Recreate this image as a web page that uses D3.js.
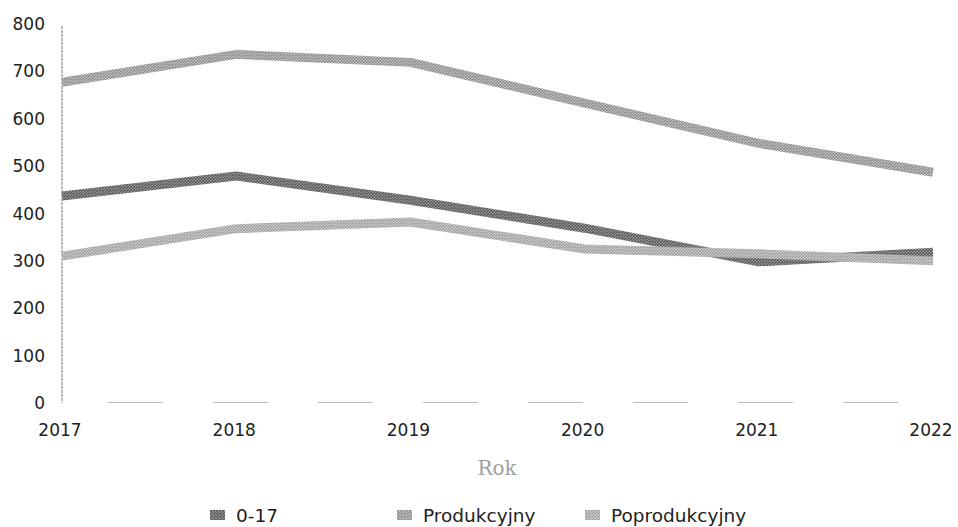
<!DOCTYPE html>
<html>
<head>
<meta charset="utf-8">
<script src="https://cdn.jsdelivr.net/npm/d3@7"></script>
<style>
  body { margin: 0; background: #fff; }
  text { font-family: "DejaVu Sans", sans-serif; }
</style>
</head>
<body>
<svg id="chart" width="958" height="527"></svg>
<script>
const years = [2017, 2018, 2019, 2020, 2021, 2022];
const age0to17 = [437, 479, 428, 369, 298, 318];
const produkcyjny = [677, 736, 719, 633, 548, 487];
const poprodukcyjny = [310, 368, 382, 325, 315, 300];
const yTicks = [0, 100, 200, 300, 400, 500, 600, 700, 800];

const seriesNames = ["0-17", "Produkcyjny", "Poprodukcyjny"];
const seriesValues = [age0to17, produkcyjny, poprodukcyjny];
// dark / light pixel pairs used for the dithered look
const shades = [["#555", "#9a9a9a"], ["#8a8a8a", "#c4c4c4"], ["#9c9c9c", "#d0d0d0"]];

const svg = d3.select("#chart");

const x = d3.scalePoint().domain(years).range([62, 933]);
const y = d3.scaleLinear().domain([0, 800]).range([403, 24]);

// patterns for the textured strokes
const defs = svg.append("defs");
shades.forEach((s, i) => {
    const p = defs.append("pattern")
        .attr("id", "pat" + i)
        .attr("patternUnits", "userSpaceOnUse")
        .attr("width", 3).attr("height", 3);
    p.append("rect").attr("width", 3).attr("height", 3).attr("fill", s[1]);
    p.append("path").attr("d", "M0,3 L3,0").attr("stroke", s[0]).attr("stroke-width", 1.3);
});

// y axis: thin dotted vertical line
svg.append("line")
    .attr("x1", 62).attr("x2", 62)
    .attr("y1", y(800) + 2).attr("y2", y(0))
    .attr("stroke", "#777").attr("stroke-width", 1)
    .attr("stroke-dasharray", "3,1");

// faint broken baseline
svg.append("line")
    .attr("x1", 108).attr("x2", 935)
    .attr("y1", y(0) - 0.5).attr("y2", y(0) - 0.5)
    .attr("stroke", "#bbb").attr("stroke-width", 1)
    .attr("stroke-dasharray", "55,50");

svg.append("g").selectAll("text")
    .data(yTicks)
    .join("text")
    .attr("x", 45)
    .attr("y", d => y(d))
    .attr("dy", "0.36em")
    .attr("text-anchor", "end")
    .attr("font-size", 17)
    .attr("fill", "#222")
    .text(d => d);

svg.append("g").selectAll("text")
    .data(years)
    .join("text")
    .attr("x", d => x(d) - 2)
    .attr("y", 430)
    .attr("dy", "0.36em")
    .attr("text-anchor", "middle")
    .attr("font-size", 17)
    .attr("fill", "#222")
    .text(d => d);

svg.append("text")
    .attr("x", 497).attr("y", 468)
    .attr("dy", "0.35em")
    .attr("text-anchor", "middle")
    .attr("font-size", 20)
    .attr("fill", "#a0a0a0")
    .style("font-family", "'DejaVu Serif', serif")
    .text("Rok");

const line = d3.line()
    .x((d, i) => x(years[i]))
    .y(d => y(d));

// draw in order so dark line sits under the light one near 2021
const drawOrder = [1, 0, 2];
svg.append("g").selectAll("path")
    .data(drawOrder)
    .join("path")
    .attr("d", i => line(seriesValues[i]))
    .attr("fill", "none")
    .attr("stroke", i => `url(#pat${i})`)
    .attr("stroke-width", 9)
    .attr("stroke-linejoin", "round");

// legend
const legendX = [210, 397, 585];
const legend = svg.append("g").selectAll("g")
    .data(seriesNames)
    .join("g")
    .attr("transform", (d, i) => `translate(${legendX[i]},515)`);
legend.append("rect")
    .attr("x", 0).attr("y", -5)
    .attr("width", 15).attr("height", 10)
    .attr("fill", (d, i) => `url(#pat${i})`);
legend.append("text")
    .attr("x", 26).attr("y", 0)
    .attr("dy", "0.36em")
    .attr("font-size", 18.5)
    .attr("fill", "#222")
    .text(d => d);
</script>
</body>
</html>
